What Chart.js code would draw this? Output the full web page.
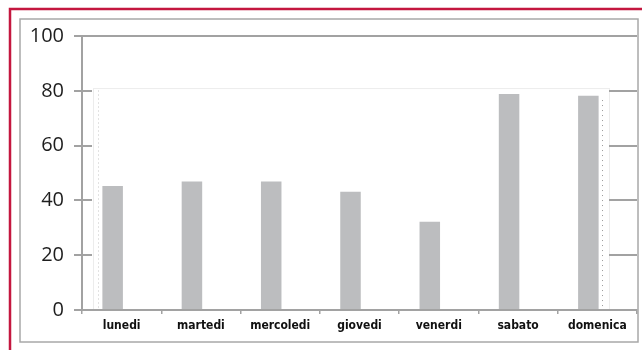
<!DOCTYPE html>
<html>
<head>
<meta charset="utf-8">
<style>
  html, body { margin: 0; padding: 0; background: #fff; }
  #wrap { position: relative; width: 642px; height: 350px; }
</style>
<script src="https://cdn.jsdelivr.net/npm/chart.js@4.4.1/dist/chart.umd.min.js"></script>
</head>
<body>
<div id="wrap"><canvas id="giorni" width="642" height="350"></canvas></div>
<script>
const giorni = ['lunedi', 'martedi', 'mercoledi', 'giovedi', 'venerdi', 'sabato', 'domenica'];
const valori = [45.3, 46.9, 46.9, 43.2, 32.2, 78.8, 78.2];
const yTicks = [0, 20, 40, 60, 80, 100];

const axisGray = '#a2a2a2';

// frames, inner panel and the little gridline stubs on the right
const decor = {
    id: 'decor',
    beforeDraw(chart) {
        const c = chart.ctx;
        const x = chart.scales.x, y = chart.scales.y;
        c.save();
        // red frame
        c.strokeStyle = '#c4173f';
        c.lineWidth = 2.5;
        c.beginPath();
        c.moveTo(10, 352); c.lineTo(10, 9); c.lineTo(645, 9);
        c.stroke();
        // gray box
        c.strokeStyle = '#a8a8a8';
        c.lineWidth = 1.5;
        c.strokeRect(20, 19, 618, 323);
        // inner white panel
        const top = y.getPixelForValue(81);
        c.strokeStyle = '#ececec';
        c.lineWidth = 1;
        c.strokeRect(x.left + 11.5, top + 0.5, x.right - x.left - 39, y.bottom - top);
        c.restore();
    },
    afterDatasetsDraw(chart) {
        const c = chart.ctx;
        const x = chart.scales.x, y = chart.scales.y;
        const top = y.getPixelForValue(81);
        c.save();
        c.strokeStyle = axisGray;
        c.lineWidth = 2;
        yTicks.forEach(v => {
            if (v === 0 || v === 100) return;
            const py = Math.round(y.getPixelForValue(v));
            c.beginPath();
            c.moveTo(x.left, py); c.lineTo(x.left + 10, py);
            c.moveTo(x.right - 28, py); c.lineTo(x.right, py);
            c.stroke();
        });
        // dotted line near the right edge
        c.strokeStyle = '#9a9a9a';
        c.lineWidth = 1;
        c.setLineDash([1, 4]);
        c.beginPath();
        c.moveTo(x.right - 34.5, top + 12); c.lineTo(x.right - 34.5, y.bottom);
        c.stroke();
        // faint dashed line on the left
        c.strokeStyle = '#e2e2e2';
        c.setLineDash([2, 2]);
        c.beginPath();
        c.moveTo(x.left + 16.5, top + 2); c.lineTo(x.left + 16.5, y.bottom);
        c.stroke();
        c.restore();
    }
};

new Chart(document.getElementById('giorni'), {
    type: 'bar',
    data: {
        labels: giorni,
        datasets: [{
            data: valori,
            backgroundColor: '#bcbdbf',
            borderWidth: 0,
            categoryPercentage: 0.454,
            barPercentage: 1.14
        }, {
            data: giorni.map(() => null),
            categoryPercentage: 0.454,
            barPercentage: 1.14
        }]
    },
    options: {
        responsive: false,
        animation: false,
        layout: { padding: { left: 0, right: 5, top: 36, bottom: 0 } },
        plugins: { legend: { display: false }, tooltip: { enabled: false } },
        scales: {
            y: {
                min: 0,
                max: 100,
                afterFit(s) { s.width = 82; },
                afterBuildTicks(s) { s.ticks = yTicks.map(v => ({ value: v })); },
                border: { color: axisGray, width: 2 },
                grid: {
                    color: ctx => ctx.tick && ctx.tick.value === 100 ? axisGray : 'rgba(0,0,0,0)',
                    tickColor: axisGray,
                    lineWidth: 2,
                    tickLength: 8
                },
                ticks: {
                    padding: 10,
                    color: '#1e1e1e',
                    font: { family: "'Open Sans', sans-serif", size: 20 }
                }
            },
            x: {
                afterFit(s) { s.height = 40; },
                border: { color: axisGray, width: 2 },
                grid: {
                    drawOnChartArea: false,
                    tickColor: axisGray,
                    tickLength: 4,
                    lineWidth: 1.5
                },
                ticks: {
                    padding: 5,
                    color: '#111',
                    maxRotation: 0,
                    font: { family: "'DejaVu Sans Condensed', 'Liberation Sans Narrow', sans-serif", size: 12, weight: 'bold' }
                }
            }
        }
    },
    plugins: [decor]
});
</script>
</body>
</html>
